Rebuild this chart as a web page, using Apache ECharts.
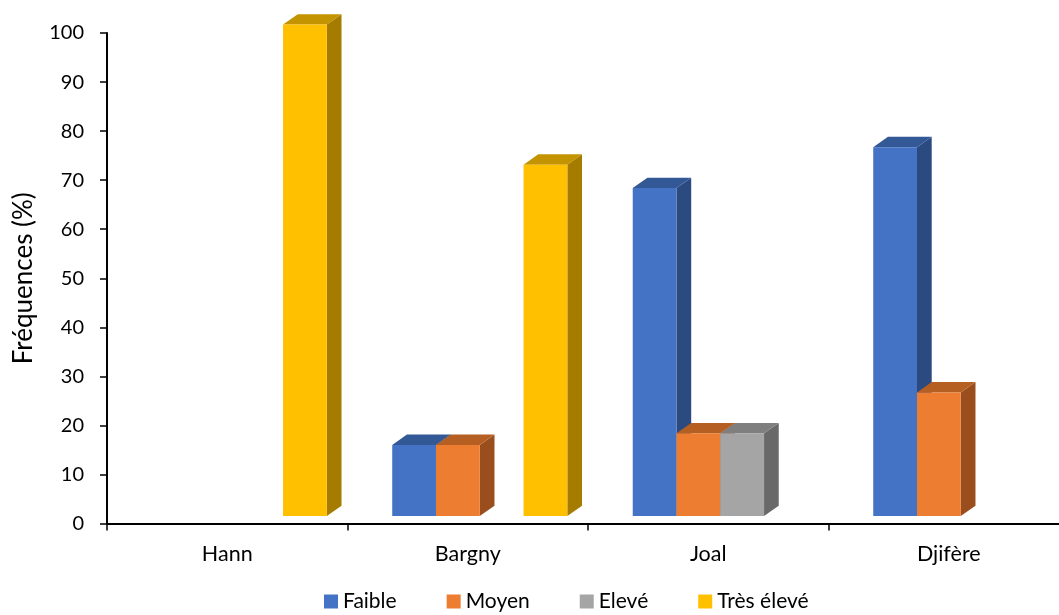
<!DOCTYPE html>
<html>
<head>
<meta charset="utf-8">
<script src="https://cdn.jsdelivr.net/npm/echarts@6/dist/echarts.min.js"></script>
<style>
  html, body { margin: 0; padding: 0; background: #fff; overflow: hidden; }
  #chart { width: 1075px; height: 615px; }
</style>
</head>
<body>
<div id="chart"></div>
<script>
var sites = ["Hann", "Bargny", "Joal", "Djifère"];
var levels = ["Faible", "Moyen", "Elevé", "Très élevé"];

// fréquences (%) par site
var faible = [0, 14.29, 66.67, 75];
var moyen = [0, 14.29, 16.67, 25];
var eleve = [0, 0, 16.67, 0];
var tresEleve = [100, 71.43, 0, 0];

// face avant, dessus, côté
var palette = [
  ["#4472C4", "#335896", "#2A4A80"],
  ["#ED7D31", "#B65F23", "#9A4E1E"],
  ["#A5A5A5", "#7F7F7F", "#696969"],
  ["#FFC000", "#C49300", "#A67C00"]
];

var DX = 14.7, DY = 10.3; // profondeur 3D

function bar3d(slot) {
  var col = palette[slot];
  return function (params, api) {
    var v = api.value(1);
    if (!v) return;
    var top = api.coord([api.value(0), v]);
    var base = api.coord([api.value(0), 0]);
    var band = api.size([1, 0])[0];
    var w = band * 0.182;
    var x = top[0] + band * 0.05 - 2 * w + slot * w;
    var y0 = base[1] - 7.5;
    var y1 = top[1] - 8.5;
    return {
      type: "group",
      children: [
        {
          type: "polygon",
          shape: { points: [[x + w, y0], [x + w + DX, y0 - DY], [x + w + DX, y1 - DY], [x + w, y1]] },
          style: { fill: col[2] }
        },
        {
          type: "polygon",
          shape: { points: [[x, y1], [x + w, y1], [x + w + DX, y1 - DY], [x + DX, y1 - DY]] },
          style: { fill: col[1] }
        },
        {
          type: "rect",
          shape: { x: x, y: y1, width: w, height: y0 - y1 },
          style: { fill: col[0] }
        }
      ]
    };
  };
}

function mkData(arr) {
  return arr.map(function (v, i) { return [i, v]; });
}

var allSeries = [faible, moyen, eleve, tresEleve];

var chart = echarts.init(document.getElementById("chart"));
var option = {
  animation: false,
  textStyle: { fontFamily: "Lato", color: "#000" },
  grid: { left: 107, right: 6, top: 33, bottom: 91.5 },
  legend: {
    data: levels,
    left: 319,
    bottom: -2,
    icon: "rect",
    itemWidth: 14,
    itemHeight: 14,
    itemGap: 50,
    textStyle: { fontFamily: "Lato", fontSize: 21, color: "#000" }
  },
  xAxis: {
    type: "category",
    data: sites,
    axisLine: { lineStyle: { color: "#000", width: 2 } },
    axisTick: { show: true, length: 7, lineStyle: { color: "#000", width: 1.5 } },
    axisLabel: { fontSize: 21.5, color: "#000", margin: 20, fontFamily: "Lato" }
  },
  yAxis: {
    type: "value",
    min: 0,
    max: 100,
    interval: 10,
    name: "Fréquences (%)",
    nameLocation: "middle",
    nameGap: 70,
    nameRotate: 90,
    nameTextStyle: { fontSize: 26, color: "#000", fontFamily: "Lato" },
    axisLine: { show: true, lineStyle: { color: "#000", width: 2 } },
    axisTick: { show: true, length: 7, lineStyle: { color: "#000", width: 1.5 } },
    axisLabel: { fontSize: 20, color: "#000", margin: 23, fontFamily: "Lato" },
    splitLine: { show: false }
  },
  series: levels.map(function (name, k) {
    return {
      name: name,
      type: "custom",
      renderItem: bar3d(k),
      itemStyle: { color: palette[k][0] },
      encode: { x: 0, y: 1 },
      data: mkData(allSeries[k])
    };
  })
};
chart.setOption(option);
</script>
</body>
</html>
